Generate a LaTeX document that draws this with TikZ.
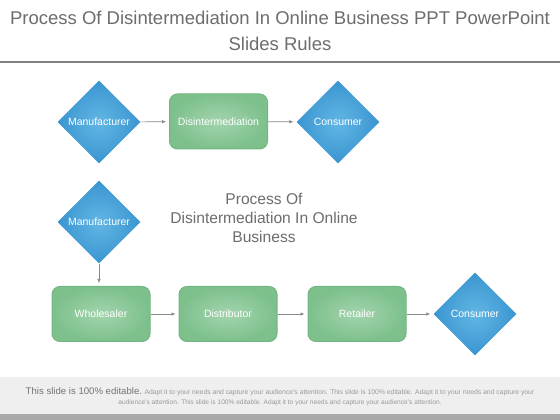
\documentclass[tikz,border=0pt]{standalone}
\usepackage{fontspec}
\setmainfont{Liberation Sans}
\usetikzlibrary{shapes.geometric, arrows.meta, positioning}
\definecolor{titlegray}{HTML}{6D6D6D}
\definecolor{rulegray}{HTML}{808080}
\definecolor{bluein}{HTML}{62B6E4}
\definecolor{blueout}{HTML}{3A95D0}
\definecolor{greenin}{HTML}{A3D4AE}
\definecolor{greenout}{HTML}{7DC08C}
\definecolor{greenedge}{HTML}{72B682}
\definecolor{arrgray}{HTML}{8A8A8A}
\definecolor{footbg}{HTML}{EFEFEF}
\definecolor{footbar}{HTML}{A9A9A9}

\tikzset{
  diam/.style={diamond, aspect=1, inner sep=0pt, minimum size=83pt,
    shading=radial, inner color=bluein, outer color=blueout,
    text=white, font=\fontsize{10.5}{12}\selectfont},
  stage/.style={rectangle, rounded corners=8pt, minimum width=98pt, minimum height=55pt,
    draw=greenedge, line width=1pt, shading=radial, inner color=greenin, outer color=greenout,
    text=white, font=\fontsize{10.5}{12}\selectfont},
  flow/.style={draw=arrgray, line width=0.6pt, -{Latex[length=4pt,width=3.5pt]}, shorten >=3pt}
}

\begin{document}
\begin{tikzpicture}[x=1pt, y=1pt]
\useasboundingbox (0,0) rectangle (560,420);
\fill[white] (0,0) rectangle (560,420);

% title
\node[text=titlegray, font=\fontsize{18.5}{26}\selectfont, align=center] (title) at (280,389.5)
  {Process Of Disintermediation In Online Business PPT PowerPoint\\Slides Rules};
\draw[rulegray, line width=2pt] (0,358) -- (560,358);

% top row
\node[diam] (man1) at (99,298) {Manufacturer};
\node[stage] (dis) at (218.5,298.5) {Disintermediation};
\node[diam] (con1) at (338,298) {Consumer};
\draw[flow] (man1) -- (dis);
\draw[flow] (dis) -- (con1);

% middle
\node[diam] (man2) at (99,198) {Manufacturer};
\node[text=titlegray, font=\fontsize{15.6}{19}\selectfont, align=center] (caption) at (264,202)
  {Process Of\\Disintermediation In Online\\Business};

% bottom row
\node[stage] (whole) at (101,106) {Wholesaler};
\node[stage] (dist) at (228,106) {Distributor};
\node[stage] (ret) at (357,106) {Retailer};
\node[diam] (con2) at (475,106) {Consumer};
\draw[flow] (man2.south) -- (man2.south |- whole.north);
\draw[flow] (whole) -- (dist);
\draw[flow] (dist) -- (ret);
\draw[flow] (ret) -- (con2);

% footer
\fill[footbg] (0,6) rectangle (560,43);
\fill[footbar] (0,0) rectangle (560,6);
\node[font=\fontsize{6.8}{8}\selectfont, text=gray!80] (foot1) at (280,28)
  {{\fontsize{9.6}{12}\selectfont\color{gray!110}This slide is 100\% editable.} Adapt it to your needs and capture your audience’s attention. This slide is 100\% editable. Adapt it to your needs and capture your};
\node[font=\fontsize{6.6}{8}\selectfont, text=gray!80] (foot2) at (280,17)
  {audience’s attention. This slide is 100\% editable. Adapt it to your needs and capture your audience’s attention.};
\end{tikzpicture}
\end{document}
